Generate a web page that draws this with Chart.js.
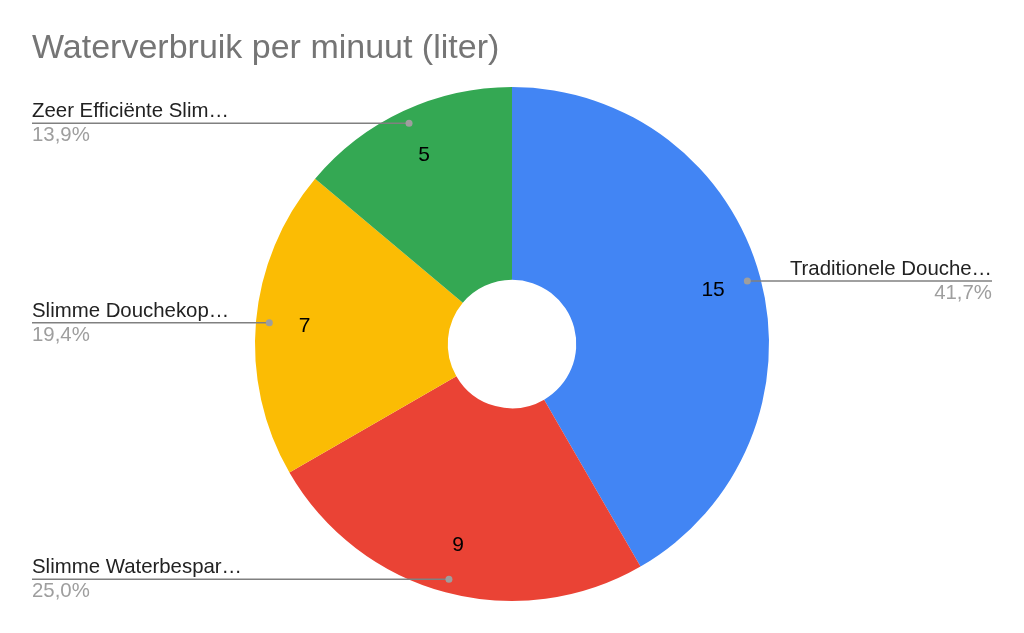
<!DOCTYPE html>
<html>
<head>
<meta charset="utf-8">
<script src="https://cdn.jsdelivr.net/npm/chart.js@4"></script>
<style>
  html, body { margin: 0; padding: 0; background: #fff; }
  #wrap { width: 1024px; height: 633px; position: relative; }
</style>
</head>
<body>
<div id="wrap"><canvas id="chart"></canvas></div>
<script>
const chartTitle = 'Waterverbruik per minuut (liter)';
const categories = ['Traditionele Douche…', 'Slimme Waterbespar…', 'Slimme Douchekop…', 'Zeer Efficiënte Slim…'];
const values = [15, 9, 7, 5];
const sliceColors = ['#4285F4', '#EA4335', '#FBBC04', '#34A853'];

const FONT = '"Liberation Sans", Arial, sans-serif';

// draws title, values inside slices and the outside labels with leader lines
const labelPlugin = {
    id: 'labels',
    afterDraw(chart) {
        const ctx = chart.ctx;
        const meta = chart.getDatasetMeta(0);
        const total = values.reduce((a, b) => a + b, 0);

        ctx.save();
        ctx.font = '34px ' + FONT;
        ctx.fillStyle = '#757575';
        ctx.textAlign = 'left';
        ctx.textBaseline = 'alphabetic';
        ctx.fillText(chartTitle, 32, 58);

        meta.data.forEach(function (arc, i) {
            const p = arc.getProps(['x', 'y', 'startAngle', 'endAngle', 'outerRadius'], true);
            const mid = (p.startAngle + p.endAngle) / 2;
            const cos = Math.cos(mid), sin = Math.sin(mid);

            // value inside slice
            const vr = p.outerRadius * 0.81;
            ctx.font = '21px ' + FONT;
            ctx.fillStyle = '#000';
            ctx.textAlign = 'center';
            ctx.textBaseline = 'middle';
            ctx.fillText(String(values[i]), p.x + cos * vr, p.y + sin * vr);

            // leader line
            const dr = p.outerRadius * 0.948;
            const dx = p.x + cos * dr, dy = p.y + sin * dr;
            const right = cos > 0;
            const endX = right ? 992 : 32;
            ctx.strokeStyle = '#808080';
            ctx.lineWidth = 1.5;
            ctx.beginPath();
            ctx.moveTo(dx, dy);
            ctx.lineTo(endX, dy);
            ctx.stroke();
            ctx.fillStyle = '#9e9e9e';
            ctx.beginPath();
            ctx.arc(dx, dy, 3.5, 0, Math.PI * 2);
            ctx.fill();

            // category and percentage
            ctx.textAlign = right ? 'right' : 'left';
            ctx.textBaseline = 'alphabetic';
            ctx.font = '20.4px ' + FONT;
            ctx.fillStyle = '#222';
            ctx.fillText(categories[i], endX, dy - 6);
            const pct = (values[i] / total * 100).toFixed(1).replace('.', ',') + '%';
            ctx.fillStyle = '#9e9e9e';
            ctx.fillText(pct, endX, dy + 18);
        });
        ctx.restore();
    }
};

new Chart(document.getElementById('chart'), {
    type: 'doughnut',
    data: {
        labels: categories,
        datasets: [{
            data: values,
            backgroundColor: sliceColors,
            borderWidth: 0
        }]
    },
    options: {
        responsive: true,
        maintainAspectRatio: false,
        animation: false,
        cutout: '25%',
        layout: { padding: { top: 87, bottom: 32, left: 255, right: 255 } },
        plugins: {
            legend: { display: false },
            tooltip: { enabled: false },
            title: { display: false }
        }
    },
    plugins: [labelPlugin]
});
</script>
</body>
</html>
